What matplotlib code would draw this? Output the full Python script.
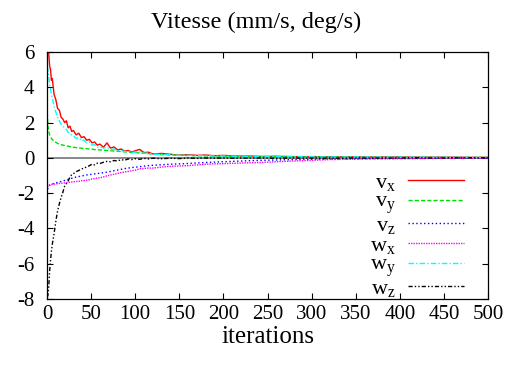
import matplotlib
matplotlib.use("Agg")
import matplotlib.pyplot as plt

plt.rcParams['font.family'] = ['Liberation Serif', 'DejaVu Serif']
plt.rcParams['mathtext.fontset'] = 'custom'
plt.rcParams['mathtext.rm'] = 'Liberation Serif'
plt.rcParams['mathtext.it'] = 'Liberation Serif'
plt.rcParams['axes.unicode_minus'] = False

# iterations sampled (dense at the start where things move fast)
iters = [0, 1, 2, 3, 4, 5, 6,
         8, 10, 12, 14, 16, 18, 20, 22, 24, 26, 28, 30,
         33, 36, 39, 42, 45, 48, 51, 54, 57, 60,
         64, 68, 72, 76, 80, 84, 88, 92, 96, 100,
         105, 110, 115, 120,
         130, 140, 150, 160, 170, 180, 190, 200,
         215, 230, 245, 260,
         280, 300, 320, 340, 360, 380, 400, 420, 440, 460, 480, 500]

vx = [6.8, 6.3, 5.9, 5.2, 5.0, 4.4, 4.5,
      3.6, 3.3, 2.8, 2.7, 2.3, 2.2, 2.0, 2.1, 1.7, 1.8, 1.5, 1.55,
      1.3, 1.4, 1.15, 1.2, 1.0, 1.05, 0.85, 0.9, 0.72, 0.78,
      0.6, 0.85, 0.55, 0.62, 0.45, 0.5, 0.38, 0.42, 0.33, 0.4,
      0.48, 0.3, 0.32, 0.22,
      0.25, 0.2, 0.15, 0.18, 0.14, 0.16, 0.12, 0.14,
      0.1, 0.1, 0.08, 0.09,
      0.07, 0.07, 0.06, 0.06, 0.05, 0.05, 0.05, 0.04, 0.04, 0.04, 0.03, 0.03]

vy = [2.9, 1.8, 1.5, 1.3, 1.18, 1.1, 1.04,
      0.95, 0.88, 0.82, 0.78, 0.75, 0.72, 0.7, 0.68, 0.66, 0.64, 0.62, 0.6,
      0.58, 0.56, 0.55, 0.53, 0.52, 0.5, 0.49, 0.47, 0.46, 0.45,
      0.43, 0.42, 0.4, 0.39, 0.37, 0.36, 0.34, 0.33, 0.31, 0.3,
      0.28, 0.26, 0.24, 0.22,
      0.19, 0.17, 0.15, 0.13, 0.12, 0.11, 0.1, 0.09,
      0.08, 0.07, 0.06, 0.06,
      0.05, 0.05, 0.04, 0.04, 0.04, 0.03, 0.03, 0.03, 0.03, 0.02, 0.02, 0.02]

vz = [-2.0, -1.7, -1.6, -1.56, -1.52, -1.5, -1.48,
      -1.45, -1.42, -1.39, -1.36, -1.34, -1.31, -1.28, -1.25, -1.22, -1.19, -1.16, -1.13,
      -1.09, -1.06, -1.03, -1.0, -0.97, -0.95, -0.93, -0.91, -0.89, -0.87,
      -0.84, -0.81, -0.77, -0.73, -0.69, -0.65, -0.61, -0.58, -0.55, -0.53,
      -0.5, -0.47, -0.44, -0.42,
      -0.39, -0.36, -0.34, -0.32, -0.29, -0.26, -0.24, -0.22,
      -0.19, -0.16, -0.14, -0.12,
      -0.1, -0.08, -0.07, -0.06, -0.05, -0.04, -0.04, -0.03, -0.03, -0.02, -0.02, -0.02]

wx = [-1.8, -1.6, -1.55, -1.53, -1.52, -1.51, -1.5,
      -1.49, -1.48, -1.46, -1.45, -1.44, -1.43, -1.42, -1.41, -1.39, -1.38, -1.37, -1.36,
      -1.34, -1.33, -1.3, -1.29, -1.26, -1.24, -1.2, -1.18, -1.14, -1.13,
      -1.08, -1.02, -0.97, -0.93, -0.88, -0.84, -0.8, -0.77, -0.73, -0.7,
      -0.62, -0.6, -0.58, -0.58,
      -0.52, -0.48, -0.46, -0.44, -0.4, -0.36, -0.34, -0.33,
      -0.3, -0.28, -0.26, -0.22,
      -0.18, -0.14, -0.1, -0.08, -0.06, -0.05, -0.04, -0.04, -0.03, -0.03, -0.02, -0.02]

wy = [5.2, 5.0, 4.6, 4.2, 3.9, 3.6, 3.4,
      2.9, 2.6, 2.3, 2.1, 1.9, 1.8, 1.7, 1.6, 1.45, 1.4, 1.3, 1.25,
      1.1, 1.15, 0.98, 1.0, 0.85, 0.9, 0.72, 0.75, 0.6, 0.65,
      0.55, 0.6, 0.48, 0.5, 0.4, 0.42, 0.35, 0.38, 0.3, 0.33,
      0.35, 0.26, 0.27, 0.2,
      0.2, 0.17, 0.13, 0.15, 0.12, 0.13, 0.1, 0.11,
      0.09, 0.08, 0.07, 0.07,
      0.06, 0.06, 0.05, 0.05, 0.05, 0.04, 0.04, 0.04, 0.03, 0.03, 0.03, 0.02]

wz = [-7.9, -7.8, -7.3, -6.4, -5.8, -5.3, -4.9,
      -4.3, -3.6, -3.0, -2.6, -2.25, -1.95, -1.6, -1.45, -1.3, -1.1, -0.95, -0.9,
      -0.78, -0.72, -0.62, -0.6, -0.5, -0.45, -0.35, -0.4, -0.3, -0.32,
      -0.25, -0.2, -0.22, -0.15, -0.18, -0.1, -0.14, -0.06, -0.1, -0.05,
      -0.08, -0.03, -0.06, -0.02,
      -0.05, -0.02, -0.04, -0.01, -0.03, -0.01, -0.02, -0.01,
      -0.02, -0.01, -0.01, -0.02,
      -0.01, -0.01, -0.02, -0.01, -0.01, -0.01, -0.01, 0.0, -0.01, 0.0, 0.0, 0.0]

series = [
    (vx, r'$\mathrm{v_x}$', '#ff0000', '-'),
    (vy, r'$\mathrm{v_y}$', '#00e000', (0, (3, 1.5))),
    (vz, r'$\mathrm{v_z}$', '#0000ff', (0, (1, 1.8))),
    (wx, r'$\mathrm{w_x}$', '#ff00ff', (0, (1, 0.8))),
    (wy, r'$\mathrm{w_y}$', '#00ffff', (0, (4, 1.5, 1, 1.5))),
    (wz, r'$\mathrm{w_z}$', '#000000', (0, (3, 1.5, 1, 1.5, 1, 1.5))),
]

fig = plt.figure(figsize=(5.17, 3.69), dpi=100)
ax = fig.add_axes([47/517, 70/369, 441/517, 247/369])

ax.axhline(0, color='#808080', lw=1.3, zorder=1)
for vals, lab, col, ls in series:
    ax.plot(iters, vals, color=col, ls=ls, lw=1.0, label=lab, zorder=2)

ax.set_xlim(0, 500)
ax.set_ylim(-8, 6)
ax.set_xticks(range(0, 501, 50))
ax.set_yticks(range(-8, 7, 2))
ax.tick_params(direction='in', top=True, right=True, length=4, width=0.8,
               labelsize=15)
ax.tick_params(axis='x', pad=4)
ax.tick_params(axis='y', pad=9)
for s in ax.spines.values():
    s.set_linewidth(0.9)

# gnuplot centres the title on the whole canvas
fig.text(256/517, 1 - 28/369, 'Vitesse (mm/s, deg/s)', fontsize=17.5,
         ha='center', va='baseline')
ax.set_xlabel('iterations', fontsize=18, labelpad=2)

ax.legend(loc='lower right', bbox_to_anchor=(0.97, -0.045), frameon=False,
          markerfirst=False, fontsize=16, handlelength=2.5,
          handletextpad=0.55, labelspacing=-0.04, borderaxespad=0.1)

fig.savefig('out.png', dpi=100)
